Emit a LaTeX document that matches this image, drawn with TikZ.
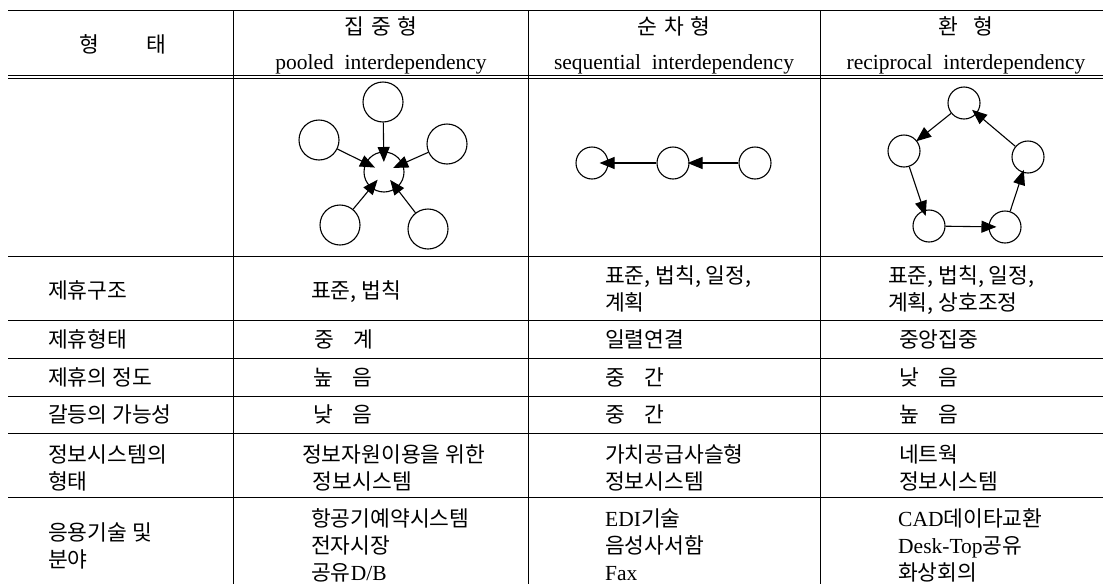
\documentclass[tikz,border=0pt]{standalone}
\usepackage{fontspec}
\setmainfont{Noto Sans CJK KR}
\newfontfamily\lat{Liberation Serif}
\usetikzlibrary{arrows.meta}
\begin{document}
\begin{tikzpicture}[x=1pt,y=-1pt,
  rule/.style={line width=1pt,black},
  txt/.style={inner sep=0pt,anchor=base west,align=left,font=\fontsize{21.5}{27}\selectfont},
  hdr/.style={inner sep=0pt,anchor=base,font=\fontsize{21.5}{27}\selectfont},
  bigc/.style={circle,draw,line width=1.1pt,minimum size=40pt,inner sep=0pt},
  smc/.style={circle,draw,line width=1.1pt,minimum size=32pt,inner sep=0pt},
  arr/.style={line width=1.1pt,-{Triangle[length=15pt,width=12pt]}}]
\useasboundingbox (0,0) rectangle (1103,584);
\fill[white] (0,0) rectangle (1103,584);
% table rules
\foreach \y in {10.5,75,78.5,256,320,358,396,433,497}
  \draw[rule] (8,\y) -- (1103,\y);
\foreach \x in {233,528,820}
  \draw[rule] (\x,10.5) -- (\x,584);
% header
\node[hdr] (h0) at (123,52) {형\hspace{2.2em}태};
\node[hdr] (h1a) at (381,34) {집\hspace{0.3em}중\hspace{0.3em}형};
\node[hdr] (h1b) at (381,69.5) {\lat pooled\ \ interdependency};
\node[hdr] (h2a) at (674,34) {순\hspace{0.3em}차\hspace{0.3em}형};
\node[hdr] (h2b) at (674,69.5) {\lat sequential\ \ interdependency};
\node[hdr] (h3a) at (966,34) {환\hspace{0.7em}형};
\node[hdr] (h3b) at (966,69.5) {\lat reciprocal\ \ interdependency};
% pooled diagram
\node[bigc] (sc) at (384,172) {};
\node[bigc] (st) at (383,102) {};
\node[bigc] (sl) at (319,140) {};
\node[bigc] (sr) at (447,144) {};
\node[bigc] (sbl) at (340,225) {};
\node[bigc] (sbr) at (428,229) {};
\foreach \n in {st,sl,sr,sbl,sbr}
  \draw[arr,shorten >=10pt] (\n) -- (sc.center);
% sequential diagram
\node[smc] (q1) at (592,163) {};
\node[smc] (q2) at (673,163) {};
\node[smc] (q3) at (755,163) {};
\draw[arr,shorten >=-2pt] (q3) -- (q2);
\draw[arr,shorten >=-9pt] (q2) -- (q1);
% reciprocal diagram
\node[smc] (pt) at (964,103) {};
\node[smc] (pl) at (904,151) {};
\node[smc] (pr) at (1028,157) {};
\node[smc] (pbl) at (929,226) {};
\node[smc] (pbr) at (1005,227) {};
\draw[arr,shorten >=-1pt] (pt) -- (pl);
\draw[arr,shorten >=-6pt] (pl) -- (pbl);
\draw[arr,shorten >=-8pt] (pbl) -- (pbr);
\draw[arr,shorten >=-3pt] (pbr) -- (pr);
\draw[arr,shorten >=-6pt] (pr) -- (pt);
% row A (base anchor = last line)
\node[txt] (a0) at (48,298) {제휴구조};
\node[txt] (a1) at (311,298) {표준, 법칙};
\node[txt] (a2) at (605,310) {표준, 법칙, 일정,\\계획};
\node[txt] (a3) at (888,310) {표준, 법칙, 일정,\\계획, 상호조정};
% row B
\node[txt] (b0) at (48,347) {제휴형태};
\node[txt] (b1) at (314,347) {중\hspace{0.9em}계};
\node[txt] (b2) at (605,347) {일렬연결};
\node[txt] (b3) at (899,347) {중앙집중};
% row C
\node[txt] (c0) at (48,385) {제휴의 정도};
\node[txt] (c1) at (313,385) {높\hspace{0.9em}음};
\node[txt] (c2) at (605,385) {중\hspace{0.9em}간};
\node[txt] (c3) at (899,385) {낮\hspace{0.9em}음};
% row D
\node[txt] (d0) at (48,422) {갈등의 가능성};
\node[txt] (d1) at (313,422) {낮\hspace{0.9em}음};
\node[txt] (d2) at (605,422) {중\hspace{0.9em}간};
\node[txt] (d3) at (899,422) {높\hspace{0.9em}음};
% row E
\node[txt] (e0) at (48,489) {정보시스템의\\형태};
\node[txt] (e1) at (302,489) {정보자원이용을 위한\\\hspace{0.5em}정보시스템};
\node[txt] (e2) at (605,489) {가치공급사슬형\\정보시스템};
\node[txt] (e3) at (899,489) {네트웍\\정보시스템};
% row F
\node[txt] (f0) at (48,567) {응용기술 및\\분야};
\node[txt] (f1) at (311,580) {항공기예약시스템\\전자시장\\공유{\lat D/B}};
\node[txt] (f2) at (605,580) {{\lat EDI}기술\\음성사서함\\{\lat Fax}};
\node[txt] (f3) at (898,580) {{\lat CAD}데이타교환\\{\lat Desk-Top}공유\\화상회의};
\end{tikzpicture}
\end{document}
